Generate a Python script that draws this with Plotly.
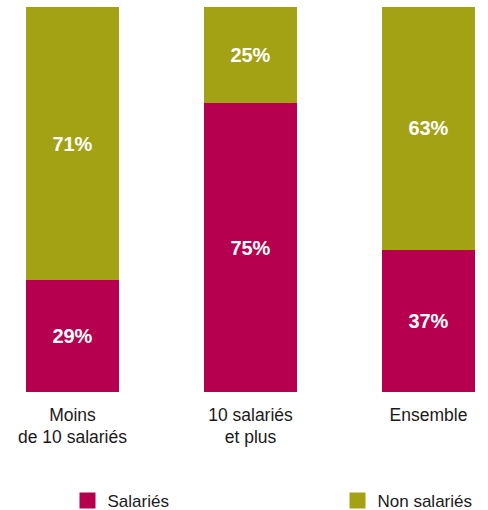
import plotly.graph_objects as go

categories = ["Moins<br>de 10 salariés", "10 salariés<br>et plus", "Ensemble"]
salaries = [29, 75, 37]
non_salaries = [71, 25, 63]
series_names = ["Salariés", "Non salariés"]
colors = ["#B6004F", "#A2A214"]

W, H = 488, 510
top, bottom = 7, 392
px_per_unit = 178
center0 = 72.5

fig = go.Figure()
legend_ids = ["legend", "legend2"]
for i, (name, vals, col) in enumerate([(series_names[0], salaries, colors[0]), (series_names[1], non_salaries, colors[1])]):
    fig.add_trace(go.Bar(
        x=categories, y=vals, name=name, marker=dict(color=col, line=dict(width=0)),
        width=93 / px_per_unit,
        text=[f"{v}%" for v in vals], textposition="inside", insidetextanchor="middle",
        textfont=dict(family="Liberation Sans", size=20, color="white", weight="bold"),
        showlegend=False, hoverinfo="skip",
    ))
    fig.add_trace(go.Scatter(
        x=[None], y=[None], mode="markers", name=name, legend=legend_ids[i],
        marker=dict(symbol="square", size=16, color=col), showlegend=True,
    ))

legend_common = dict(
    orientation="h", xanchor="left", xref="container",
    y=1 - 501 / H, yanchor="middle", yref="container",
    font=dict(size=17, color="#1a1a1a"), bgcolor="rgba(0,0,0,0)",
    itemsizing="trace", borderwidth=0,
)

fig.update_layout(
    width=W, height=H,
    barmode="stack",
    margin=dict(l=0, r=0, t=top, b=H - bottom, pad=0, autoexpand=False),
    paper_bgcolor="white", plot_bgcolor="white",
    font=dict(family="Liberation Sans", size=17, color="#1a1a1a"),
    xaxis=dict(
        type="category", automargin=False,
        range=[-center0 / px_per_unit, (W - center0) / px_per_unit],
        showgrid=False, zeroline=False, showline=False, ticks="",
        tickfont=dict(size=17.5, color="#1a1a1a"),
        ticklabelstandoff=10,
    ),
    yaxis=dict(range=[0, 100], visible=False),
    legend=dict(x=67.5 / W, **legend_common),
    legend2=dict(x=337.5 / W, **legend_common),
)

fig.write_html(
    "out.html",
    config={"displayModeBar": False, "staticPlot": True},
    post_script="document.body.style.margin='0';document.body.style.overflow='hidden';",
)
